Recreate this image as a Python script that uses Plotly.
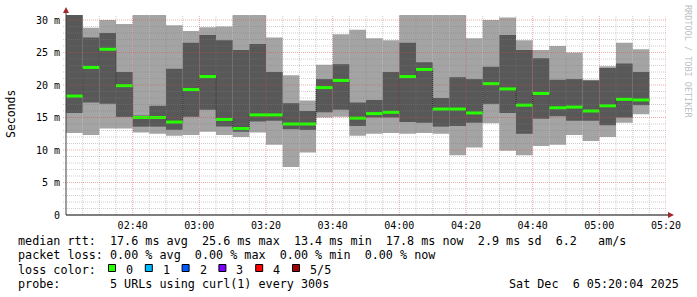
import plotly.graph_objects as go
import pandas as pd

# ---------------- data (milliseconds) ----------------
times = ["02:20", "02:25", "02:30", "02:35", "02:40", "02:45", "02:50", "02:55",
         "03:00", "03:05", "03:10", "03:15", "03:20", "03:25", "03:30", "03:35",
         "03:40", "03:45", "03:50", "03:55", "04:00", "04:05", "04:10", "04:15",
         "04:20", "04:25", "04:30", "04:35", "04:40", "04:45", "04:50", "04:55",
         "05:00", "05:05", "05:10"]
rtt_min = [12.6, 12.3, 13.3, 13.3, 12.7, 12.5, 12.2, 12.3, 12.8, 12.3,
           12.0, 12.7, 10.8, 7.4, 9.6, 15.0, 15.1, 12.2, 12.5, 12.6,
           12.5, 12.6, 12.5, 9.2, 10.4, 14.1, 9.9, 9.2, 10.6, 10.8,
           12.3, 11.4, 12.0, 14.2, 15.5]
rtt_p2 = [15.7, 17.3, 17.1, 15.1, 13.6, 13.6, 13.1, 15.1, 16.2, 13.6,
          12.8, 14.4, 14.5, 13.2, 13.1, 15.8, 16.2, 13.7, 15.0, 15.0,
          14.3, 14.2, 13.6, 13.7, 14.2, 17.1, 15.7, 12.5, 14.8, 15.2,
          14.5, 14.5, 13.8, 15.0, 16.9]
rtt_median = [18.3, 22.7, 25.5, 19.9, 15.0, 15.0, 14.3, 19.3, 21.3, 14.7,
              13.3, 15.4, 15.4, 14.0, 14.0, 19.6, 20.7, 14.9, 15.6, 15.8,
              21.3, 22.4, 16.3, 16.3, 15.7, 20.2, 19.4, 16.9, 18.7, 16.5,
              16.6, 16.0, 16.8, 17.8, 17.7]
rtt_p4 = [32.0, 27.3, 28.0, 22.0, 15.3, 16.8, 22.5, 26.5, 27.7, 26.9,
          25.4, 26.3, 22.0, 17.2, 16.0, 20.9, 23.2, 17.3, 17.7, 22.0,
          26.5, 23.5, 18.0, 21.2, 20.9, 22.8, 27.7, 25.4, 24.1, 20.8,
          20.9, 20.7, 22.6, 23.3, 22.0]
rtt_max = [33.5, 28.8, 30.0, 29.4, 31.5, 34.0, 29.2, 28.3, 28.9, 29.0,
           32.6, 31.8, 27.3, 21.5, 17.6, 23.1, 27.8, 28.5, 27.2, 26.9,
           33.2, 31.4, 32.1, 31.2, 27.2, 30.0, 30.4, 26.9, 25.4, 26.0,
           25.0, 20.8, 22.9, 26.5, 25.5]

x_tick_labels = ["02:40", "03:00", "03:20", "03:40", "04:00", "04:20", "04:40", "05:00", "05:20"]
y_tick_values = [0, 5, 10, 15, 20, 25, 30]
y_tick_labels = ["0", "5 m", "10 m", "15 m", "20 m", "25 m", "30 m"]
loss_labels = ["0", "1", "2", "3", "4", "5/5"]
loss_colors = ["#26ff00", "#00b8ff", "#0059ff", "#7e00ff", "#ff0000", "#a00000"]

legend_lines = [
    "median rtt:  17.6 ms avg  25.6 ms max  13.4 ms min  17.8 ms now  2.9 ms sd  6.2   am/s",
    "packet loss: 0.00 % avg  0.00 % max  0.00 % min  0.00 % now",
    "loss color:",
    "probe:       5 URLs using curl(1) every 300s",
]
date_text = "Sat Dec  6 05:20:04 2025"

DAY = "2025-12-06 "
X_START, X_END = DAY + "02:20", DAY + "05:20"
Y_TOP = 30.77

# ---------------- geometry ----------------
W, H = 697, 297
ML, MR, MT, MB = 66, 31, 15, 82
PW, PH = W - ML - MR, H - MT - MB
MONO = "DejaVu Sans Mono"


def px(x):
    return (x - ML) / PW


def py(y):
    return (H - MB - y) / PH


def nb(s):
    return s.replace(" ", "\u00a0")


t_start = pd.to_datetime([DAY + t for t in times])
step = pd.Timedelta(minutes=5)
t_end = t_start + step

fig = go.Figure()

# smoke: outer band (min..max) and inner band (p2..p4)
fig.add_trace(go.Bar(
    x=t_start, base=rtt_min, y=[b - a for a, b in zip(rtt_min, rtt_max)],
    width=step.total_seconds() * 1000, offset=0,
    marker=dict(color="#a4a4a4", line=dict(width=0)), hoverinfo="skip"))
fig.add_trace(go.Bar(
    x=t_start, base=rtt_p2, y=[b - a for a, b in zip(rtt_p2, rtt_p4)],
    width=step.total_seconds() * 1000, offset=0,
    marker=dict(color="#585858", line=dict(width=0)), hoverinfo="skip"))

# thin step line of the median
fig.add_trace(go.Scatter(
    x=list(t_start) + [t_end[-1]], y=rtt_median + [rtt_median[-1]],
    mode="lines", line=dict(shape="hv", color="#202020", width=1, dash="1px,1px"),
    hoverinfo="skip"))

# loss-coloured median segments
seg_x, seg_y = [], []
for a, b, m in zip(t_start, t_end, rtt_median):
    seg_x += [a, b, None]
    seg_y += [m, m, None]
fig.add_trace(go.Scatter(
    x=seg_x, y=seg_y, mode="lines",
    line=dict(color=loss_colors[0], width=3), hoverinfo="skip"))

shapes = []
# grid drawn above the smoke (like rrdtool)
minor_col = "rgba(128,128,128,0.38)"
major_col = "rgba(220,70,70,0.45)"
for v in range(1, 31):
    shapes.append(dict(type="line", layer="above", xref="paper", yref="y",
                       x0=px(63), x1=1, y0=v, y1=v,
                       line=dict(color=major_col if v % 5 == 0 else minor_col,
                                 width=1, dash="1px,1px")))
gt = pd.Timestamp(X_START) + step
while gt <= pd.Timestamp(X_END):
    major = gt.minute % 20 == 0
    shapes.append(dict(type="line", layer="above", xref="x", yref="paper",
                       x0=gt, x1=gt, y0=0, y1=1,
                       line=dict(color=major_col if major else minor_col,
                                 width=1, dash="1px,1px")))
    gt += step

# axes lines and arrows
shapes.append(dict(type="line", layer="above", xref="paper", yref="paper",
                   x0=0, x1=px(670), y0=0, y1=0, line=dict(color="#000000", width=1)))
shapes.append(dict(type="line", layer="above", xref="paper", yref="paper",
                   x0=0, x1=0, y0=0, y1=py(11), line=dict(color="#404040", width=1)))
arrow_col = "#a02828"
shapes.append(dict(type="path", layer="above", xref="paper", yref="paper",
                   path=f"M {px(66)},{py(7)} L {px(63)},{py(13)} L {px(69)},{py(13)} Z",
                   fillcolor=arrow_col, line=dict(width=0)))
shapes.append(dict(type="path", layer="above", xref="paper", yref="paper",
                   path=f"M {px(674)},{py(215)} L {px(668)},{py(212)} L {px(668)},{py(218)} Z",
                   fillcolor=arrow_col, line=dict(width=0)))

annotations = []
# y title
annotations.append(dict(text="Seconds", x=px(11), y=py(114), xref="paper", yref="paper",
                        showarrow=False, textangle=-90, xanchor="center", yanchor="middle",
                        font=dict(family=MONO, size=11.5, color="#000000")))
# watermark
annotations.append(dict(text=nb("RRDTOOL / TOBI OETIKER"), x=px(688), y=py(61),
                        xref="paper", yref="paper", showarrow=False, textangle=90,
                        xanchor="center", yanchor="middle",
                        font=dict(family=MONO, size=8.5, color="#c0c0c0")))
# legend lines
line_y = [241, 255.3, 269.5, 283.7]
for txt, ly in zip(legend_lines, line_y):
    annotations.append(dict(text=nb(txt), x=px(16), y=py(ly), xref="paper", yref="paper",
                            showarrow=False, xanchor="left", yanchor="middle",
                            font=dict(family=MONO, size=11.75, color="#000000")))
annotations.append(dict(text=nb(date_text), x=px(681), y=py(line_y[3]), xref="paper",
                        yref="paper", showarrow=False, xanchor="right", yanchor="middle",
                        font=dict(family=MONO, size=11.75, color="#000000")))
# loss colour keys
for i, (lab, col) in enumerate(zip(loss_labels, loss_colors)):
    bx = 108.5 + 36.8 * i
    shapes.append(dict(type="rect", layer="above", xref="paper", yref="paper",
                       x0=px(bx), x1=px(bx + 7), y0=py(271.5), y1=py(264.5),
                       fillcolor=col, line=dict(color="#000000", width=1)))
    annotations.append(dict(text=lab, x=px(bx + 15.5), y=py(line_y[2]), xref="paper",
                            yref="paper", showarrow=False, xanchor="left", yanchor="middle",
                            font=dict(family=MONO, size=11.75, color="#000000")))

fig.update_layout(
    width=W, height=H,
    margin=dict(l=ML, r=MR, t=MT, b=MB, pad=0),
    paper_bgcolor="#ffffff", plot_bgcolor="#ffffff",
    showlegend=False, barmode="overlay",
    shapes=shapes, annotations=annotations,
    xaxis=dict(type="date", range=[X_START, X_END], showgrid=False, zeroline=False,
               showline=False, ticks="",
               tickvals=[DAY + t for t in x_tick_labels], ticktext=x_tick_labels,
               tickfont=dict(family=MONO, size=10, color="#000000"),
               ticklabelstandoff=3, fixedrange=True),
    yaxis=dict(range=[0, Y_TOP], showgrid=False, zeroline=False, showline=False,
               ticks="", tickvals=y_tick_values, ticktext=y_tick_labels,
               tickfont=dict(family=MONO, size=10, color="#000000"),
               ticklabelstandoff=5, fixedrange=True),
)

fig.write_html("out.html")
